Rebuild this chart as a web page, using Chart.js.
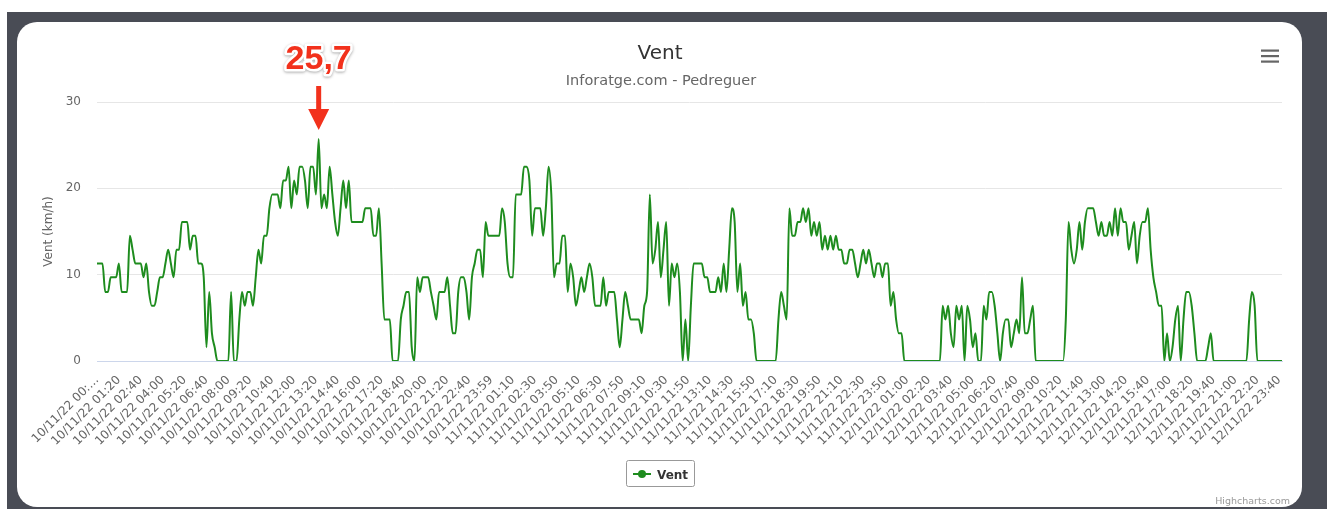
<!DOCTYPE html>
<html lang="ca">
<head>
<meta charset="UTF-8">
<title>Vent</title>
<style>
  body { margin: 0; background: #fff; width: 1327px; height: 509px; overflow: hidden; position: relative; font-family: "DejaVu Sans", sans-serif; }
  .frame { position: absolute; left: 7px; top: 12px; width: 1320px; height: 497px; background: #494c55; }
  .card { position: absolute; left: 17px; top: 22px; width: 1285px; height: 485px; background: #fff; border-radius: 20px; }
  #chart { position: absolute; left: 0; top: 0; }
</style>
</head>
<body>
<div class="frame"></div>
<div class="card"></div>
<canvas id="chart" width="1327" height="509"></canvas>

<script src="https://cdn.jsdelivr.net/npm/chart.js"></script>
<script>
// wind speed (km/h), one reading every ~10 minutes, 10/11/22 -> 12/11/22
const windKmh = [
  11.3, 11.3, 11.3, 8, 8, 9.7, 9.7, 9.7, 11.3, 8,
  8, 8, 14.5, 12.9, 11.3, 11.3, 11.3, 9.7, 11.3, 8,
  6.4, 6.4, 8, 9.7, 9.7, 11.3, 12.9, 11.3, 9.7, 12.9,
  12.9, 16.1, 16.1, 16.1, 12.9, 14.5, 14.5, 11.3, 11.3, 9.7,
  1.6, 8, 3.2, 1.6, 0, 0, 0, 0, 0, 8,
  0, 0, 4.8, 8, 6.4, 8, 8, 6.4, 9.7, 12.9,
  11.3, 14.5, 14.5, 17.7, 19.3, 19.3, 19.3, 17.7, 20.9, 20.9,
  22.5, 17.7, 20.9, 19.3, 22.5, 22.5, 20.9, 17.7, 22.5, 22.5,
  19.3, 25.7, 17.7, 19.3, 17.7, 22.5, 19.3, 16.1, 14.5, 17.7,
  20.9, 17.7, 20.9, 16.1, 16.1, 16.1, 16.1, 16.1, 17.7, 17.7,
  17.7, 14.5, 14.5, 17.7, 11.3, 4.8, 4.8, 4.8, 0, 0,
  0, 4.8, 6.4, 8, 8, 1.6, 0, 9.7, 8, 9.7,
  9.7, 9.7, 8, 6.4, 4.8, 8, 8, 8, 9.7, 6.4,
  3.2, 3.2, 8, 9.7, 9.7, 8, 4.8, 9.7, 11.3, 12.9,
  12.9, 9.7, 16.1, 14.5, 14.5, 14.5, 14.5, 14.5, 17.7, 16.1,
  11.3, 9.7, 9.7, 19.3, 19.3, 19.3, 22.5, 22.5, 20.9, 14.5,
  17.7, 17.7, 17.7, 14.5, 17.7, 22.5, 19.3, 9.7, 11.3, 11.3,
  14.5, 14.5, 8, 11.3, 9.7, 6.4, 8, 9.7, 8, 9.7,
  11.3, 9.7, 6.4, 6.4, 6.4, 9.7, 6.4, 8, 8, 8,
  4.8, 1.6, 4.8, 8, 6.4, 4.8, 4.8, 4.8, 4.8, 3.2,
  6.4, 8, 19.3, 11.3, 12.9, 16.1, 9.7, 12.9, 16.1, 6.4,
  11.3, 9.7, 11.3, 8, 0, 4.8, 0, 6.4, 11.3, 11.3,
  11.3, 11.3, 9.7, 9.7, 8, 8, 8, 9.7, 8, 11.3,
  8, 12.9, 17.7, 16.1, 8, 11.3, 6.4, 8, 4.8, 4.8,
  3.2, 0, 0, 0, 0, 0, 0, 0, 0, 4.8,
  8, 6.4, 4.8, 17.7, 14.5, 14.5, 16.1, 16.1, 17.7, 16.1,
  17.7, 14.5, 16.1, 14.5, 16.1, 12.9, 14.5, 12.9, 14.5, 12.9,
  14.5, 12.9, 12.9, 11.3, 11.3, 12.9, 12.9, 11.3, 9.7, 11.3,
  12.9, 11.3, 12.9, 11.3, 9.7, 11.3, 11.3, 9.7, 11.3, 11.3,
  6.4, 8, 4.8, 3.2, 3.2, 0, 0, 0, 0, 0,
  0, 0, 0, 0, 0, 0, 0, 0, 0, 6.4,
  4.8, 6.4, 3.2, 1.6, 6.4, 4.8, 6.4, 0, 6.4, 4.8,
  1.6, 3.2, 0, 0, 6.4, 4.8, 8, 8, 6.4, 3.2,
  0, 3.2, 4.8, 4.8, 1.6, 3.2, 4.8, 3.2, 9.7, 3.2,
  3.2, 4.8, 6.4, 0, 0, 0, 0, 0, 0, 0,
  0, 0, 0, 0, 4.8, 16.1, 12.9, 11.3, 12.9, 16.1,
  12.9, 16.1, 17.7, 17.7, 17.7, 16.1, 14.5, 16.1, 14.5, 14.5,
  16.1, 14.5, 17.7, 14.5, 17.7, 16.1, 16.1, 12.9, 14.5, 16.1,
  11.3, 14.5, 16.1, 16.1, 17.7, 12.9, 9.7, 8, 6.4, 6.4,
  0, 3.2, 0, 1.6, 4.8, 6.4, 0, 4.8, 8, 8,
  6.4, 3.2, 0, 0, 0, 0, 1.6, 3.2, 0, 0,
  0, 0, 0, 0, 0, 0, 0, 0, 0, 0,
  0, 4.8, 8, 6.4, 0, 0, 0, 0, 0, 0,
  0, 0, 0, 0
];

// one label every 8 readings
const tickLabels = [
  '10/11/22 00:…', '10/11/22 01:20', '10/11/22 02:40', '10/11/22 04:00', '10/11/22 05:20',
  '10/11/22 06:40', '10/11/22 08:00', '10/11/22 09:20', '10/11/22 10:40', '10/11/22 12:00',
  '10/11/22 13:20', '10/11/22 14:40', '10/11/22 16:00', '10/11/22 17:20', '10/11/22 18:40',
  '10/11/22 20:00', '10/11/22 21:20', '10/11/22 22:40', '10/11/22 23:59',
  '11/11/22 01:10', '11/11/22 02:30', '11/11/22 03:50', '11/11/22 05:10', '11/11/22 06:30',
  '11/11/22 07:50', '11/11/22 09:10', '11/11/22 10:30', '11/11/22 11:50', '11/11/22 13:10',
  '11/11/22 14:30', '11/11/22 15:50', '11/11/22 17:10', '11/11/22 18:30', '11/11/22 19:50',
  '11/11/22 21:10', '11/11/22 22:30', '11/11/22 23:50',
  '12/11/22 01:00', '12/11/22 02:20', '12/11/22 03:40', '12/11/22 05:00', '12/11/22 06:20',
  '12/11/22 07:40', '12/11/22 09:00', '12/11/22 10:20', '12/11/22 11:40', '12/11/22 13:00',
  '12/11/22 14:20', '12/11/22 15:40', '12/11/22 17:00', '12/11/22 18:20', '12/11/22 19:40',
  '12/11/22 21:00', '12/11/22 22:20', '12/11/22 23:40'
];
const labelEvery = 8;
const yTicks = [0, 10, 20, 30];

const categories = windKmh.map((v, i) => (i % labelEvery === 0 ? (tickLabels[i / labelEvery] || '') : ''));

const GREEN = '#1e8c1e';
const FONT = '"DejaVu Sans", sans-serif';

// title, subtitle, menu icon, legend, credits and the max-value callout
const decor = {
  id: 'decor',
  afterDraw(chart) {
    const ctx = chart.ctx;
    ctx.save();

    ctx.textAlign = 'center';
    ctx.textBaseline = 'alphabetic';
    ctx.fillStyle = '#333';
    ctx.font = '20px ' + FONT;
    ctx.fillText('Vent', 660, 59);
    ctx.fillStyle = '#666';
    ctx.font = '14.5px ' + FONT;
    ctx.fillText('Inforatge.com - Pedreguer', 661, 85);

    // menu icon
    ctx.fillStyle = '#666';
    [49.5, 55, 60.5].forEach(y => ctx.fillRect(1261, y, 18, 2.2));

    // legend
    ctx.strokeStyle = '#999';
    ctx.lineWidth = 1;
    ctx.beginPath();
    ctx.roundRect(626.5, 460.5, 68, 26, 2);
    ctx.stroke();
    ctx.strokeStyle = GREEN;
    ctx.lineWidth = 2;
    ctx.beginPath();
    ctx.moveTo(633, 474);
    ctx.lineTo(651, 474);
    ctx.stroke();
    ctx.fillStyle = GREEN;
    ctx.beginPath();
    ctx.arc(642, 474, 4, 0, Math.PI * 2);
    ctx.fill();
    ctx.fillStyle = '#333';
    ctx.textAlign = 'left';
    ctx.font = 'bold 12px ' + FONT;
    ctx.fillText('Vent', 657, 478.5);

    // credits
    ctx.fillStyle = '#999';
    ctx.textAlign = 'right';
    ctx.font = '9.5px ' + FONT;
    ctx.fillText('Highcharts.com', 1290, 504);

    // callout on the maximum
    const data = chart.data.datasets[0].data;
    let maxIdx = 0;
    data.forEach((v, i) => { if (v > data[maxIdx]) maxIdx = i; });
    const x = chart.scales.x.getPixelForValue(maxIdx);
    const red = '#f2311c';
    ctx.textAlign = 'center';
    ctx.font = 'bold 34px "Liberation Sans", Arial, sans-serif';
    const txt = data[maxIdx].toFixed(1).replace('.', ',');
    ctx.shadowColor = 'rgba(0,0,0,0.35)';
    ctx.shadowBlur = 3;
    ctx.shadowOffsetY = 1;
    ctx.strokeStyle = '#fff';
    ctx.lineWidth = 5;
    ctx.lineJoin = 'round';
    ctx.strokeText(txt, x, 69);
    ctx.shadowColor = 'transparent';
    ctx.fillStyle = red;
    ctx.fillText(txt, x, 69);

    ctx.fillRect(x - 2.5, 86, 5, 25);
    ctx.beginPath();
    ctx.moveTo(x - 10.5, 109);
    ctx.lineTo(x + 10.5, 109);
    ctx.lineTo(x, 130);
    ctx.closePath();
    ctx.fill();

    ctx.restore();
  }
};

new Chart(document.getElementById('chart'), {
  type: 'line',
  data: {
    labels: categories,
    datasets: [{
      label: 'Vent',
      data: windKmh,
      borderColor: GREEN,
      backgroundColor: GREEN,
      borderWidth: 2,
      pointRadius: 0,
      cubicInterpolationMode: 'monotone',
      fill: false
    }]
  },
  options: {
    responsive: false,
    animation: false,
    devicePixelRatio: 1,
    layout: { padding: { left: 38, right: 45, top: 102, bottom: 48 } },
    plugins: {
      legend: { display: false },
      title: { display: false },
      tooltip: { enabled: false }
    },
    scales: {
      x: {
        grid: { display: false },
        border: { display: true, color: '#ccd6eb', width: 1 },
        ticks: {
          autoSkip: false,
          maxRotation: 45,
          minRotation: 45,
          padding: 4,
          color: '#666',
          font: { family: FONT, size: 12 }
        },
        afterFit(scale) { scale.height = 100; }
      },
      y: {
        min: yTicks[0],
        max: yTicks[yTicks.length - 1],
        afterBuildTicks(scale) { scale.ticks = yTicks.map(v => ({ value: v })); },
        grid: {
          drawTicks: false,
          color: c => (c.tick && c.tick.value === 0 ? '#ccd6eb' : '#e6e6e6')
        },
        border: { display: false },
        ticks: {
          padding: 16,
          color: '#666',
          font: { family: FONT, size: 12 }
        },
        title: {
          display: true,
          text: 'Vent (km/h)',
          color: '#666',
          font: { family: FONT, size: 12 },
          padding: { top: 4, bottom: 0 }
        },
        afterFit(scale) { scale.width = 59; }
      }
    }
  },
  plugins: [decor]
});
</script>
</body>
</html>
